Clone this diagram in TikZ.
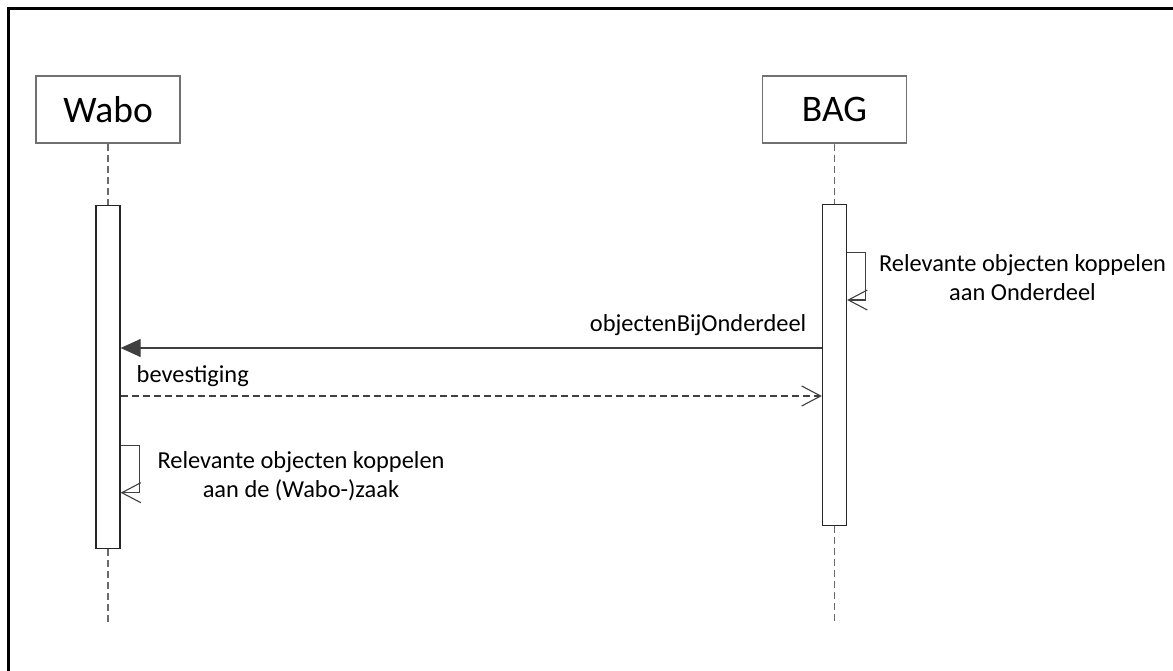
\documentclass[tikz,border=0pt]{standalone}
\usepackage{fontspec}
\setmainfont{Carlito}
\usetikzlibrary{arrows.meta}
\definecolor{boxgray}{HTML}{707070}
\definecolor{lifegray}{HTML}{6A6A6A}
\definecolor{msggray}{HTML}{404040}
\begin{document}
\begin{tikzpicture}[x=1pt,y=-1pt,
  head/.style={draw=boxgray, line width=1.1pt, fill=white, minimum width=144pt, minimum height=67pt, inner sep=0pt, font=\fontsize{37.5}{42}\selectfont},
  actbar/.style={draw=black!85, line width=1.3pt, fill=white, minimum width=24pt, inner sep=0pt},
  life/.style={draw=lifegray, line width=1.1pt, dash pattern=on 7pt off 4pt},
  msg/.style={draw=msggray, line width=1.1pt},
  lbl/.style={font=\fontsize{24.4}{29}\selectfont, inner sep=0pt, align=center},
  filledtip/.style={-{Triangle[length=20pt,width=18pt]}},
  opentip/.style={-{Straight Barb[length=19pt,width=20pt,line width=1.1pt]}},
]
\useasboundingbox (0,0) rectangle (1173,671);
\fill[white] (0,0) rectangle (1173,671);
% frame
\draw[line width=3pt] (8.5,671) -- (8.5,9) -- (1173,9);

% heads
\node[head] (wabo) at (108,109.5) {Wabo};
\node[head] (bag) at (834.5,109.5) {BAG};

% bars
\node[actbar, minimum height=343pt] (wbar) at (108,377) {};
\node[actbar, minimum height=321.5pt] (bbar) at (834.5,365) {};

% lifeline ends
\coordinate (wend) at (108,623.5);
\coordinate (bend) at (834.5,624);

\draw[life] (wabo.south) -- (wbar.north);
\draw[life] (wbar.south) -- (wend);
\draw[life] (bag.south) -- (bbar.north);
\draw[life] (bbar.south) -- (bend);

% BAG self message
\coordinate (bs1) at (bbar.east |- 0,252.5);
\coordinate (bs2) at (865.7,252.5);
\coordinate (bs3) at (865.7,300);
\coordinate (bs4) at (bbar.east |- 0,300);
\draw[msg, opentip] (bs1) -- (bs2) -- (bs3) -- (bs4);
\node[lbl] (bslbl) at (1022.5,278) {Relevante objecten koppelen\\aan Onderdeel};

% objectenBijOnderdeel
\coordinate (m1a) at (bbar.west |- 0,348);
\coordinate (m1b) at (wbar.east |- 0,348);
\draw[msg, filledtip] (m1a) -- (m1b);
\node[lbl, anchor=base east] (m1lbl) at (806.5,331.5) {objectenBijOnderdeel};

% bevestiging
\coordinate (m2a) at (wbar.east |- 0,396);
\coordinate (m2b) at (bbar.west |- 0,396);
\draw[msg, opentip, dash pattern=on 7pt off 4pt] (m2a) -- (m2b);
\node[lbl, anchor=base west] (m2lbl) at (136.5,382) {bevestiging};

% Wabo self message
\coordinate (ws1) at (wbar.east |- 0,445.5);
\coordinate (ws2) at (139.3,445.5);
\coordinate (ws3) at (139.3,492.7);
\coordinate (ws4) at (wbar.east |- 0,492.7);
\draw[msg, opentip] (ws1) -- (ws2) -- (ws3) -- (ws4);
\node[lbl] (wslbl) at (301,476) {Relevante objecten koppelen\\aan de (Wabo-)zaak};
\end{tikzpicture}
\end{document}
